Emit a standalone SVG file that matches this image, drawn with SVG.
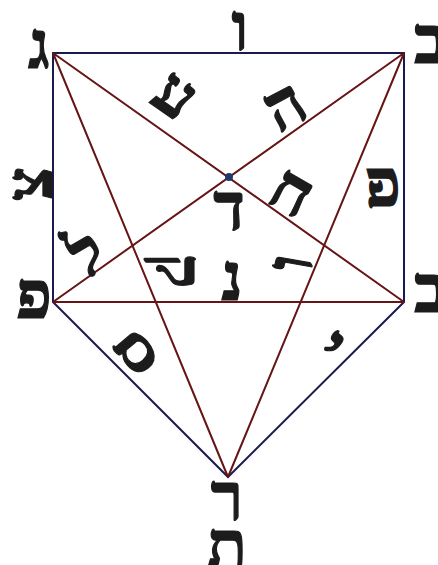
<svg xmlns="http://www.w3.org/2000/svg" width="438" height="565" viewBox="0 0 438 565">
<style>
.nv{stroke:#1a1a4c;stroke-width:2;fill:none;stroke-linecap:round}
.rd{stroke:#661414;stroke-width:2;fill:none;stroke-linecap:round}
.h{font-family:"Liberation Serif","DejaVu Sans",serif;font-weight:bold;font-size:66px;fill:#1c1c1c;stroke:#1c1c1c;stroke-width:1.2;text-anchor:middle}
</style>
<rect width="438" height="565" fill="#ffffff"/>
<g id="connectors">
<path class="nv" d="M53,53 H404 V302 M53,53 V302 M53,302 L228,477 L404,302"/>
<path class="rd" d="M53,53 L228,477 M404,53 L228,477 M53,53 L404,302 M404,53 L53,302 M53,302 H404"/>
</g>
<g id="center"><circle cx="229" cy="177" r="4" fill="#1c3a70"/></g>
<g id="n-gimel"><text class="h" x="39" y="68">ג</text></g>
<g id="n-vav-top"><text class="h" x="240" y="50">ו</text></g>
<g id="n-bet-tr"><text class="h" x="430" y="63">ב</text></g>
<g id="n-tsadi"><text class="h" transform="translate(31,184) rotate(-90)" y="21">צ</text></g>
<g id="n-pe-left"><text class="h" x="34" y="318">פ</text></g>
<g id="n-bet-right"><text class="h" x="430" y="312">ב</text></g>
<g id="n-resh"><text class="h" x="227" y="520">ר</text></g>
<g id="n-tav"><text class="h" x="227" y="568">ת</text></g>
<g id="n-ayin"><text class="h" transform="translate(175,95) rotate(35)" y="21">ע</text></g>
<g id="n-he"><text class="h" transform="translate(285,106) rotate(-28)" y="21">ה</text></g>
<g id="n-het"><text class="h" transform="translate(292,192) rotate(30)" y="21">ח</text></g>
<g id="n-dalet"><text class="h" x="229" y="230">ד</text></g>
<g id="n-pe-in"><text class="h" transform="translate(383,190) scale(1,-1)" y="21">פ</text></g>
<g id="n-lamed"><text class="h" transform="translate(84,249) rotate(-30)" y="27">ל</text></g>
<g id="n-qof"><text class="h" transform="translate(168,271) rotate(90)" y="11">ק</text></g>
<g id="n-nun"><text class="h" x="232" y="300">נ</text></g>
<g id="n-vav-in"><text class="h" transform="translate(291,263) rotate(-80)" y="21">ו</text></g>
<g id="n-samekh"><text class="h" transform="translate(135,351) rotate(-40)" y="21">ס</text></g>
<g id="n-yod"><text class="h" transform="translate(338,339) rotate(40)" y="32">י</text></g>
</svg>
